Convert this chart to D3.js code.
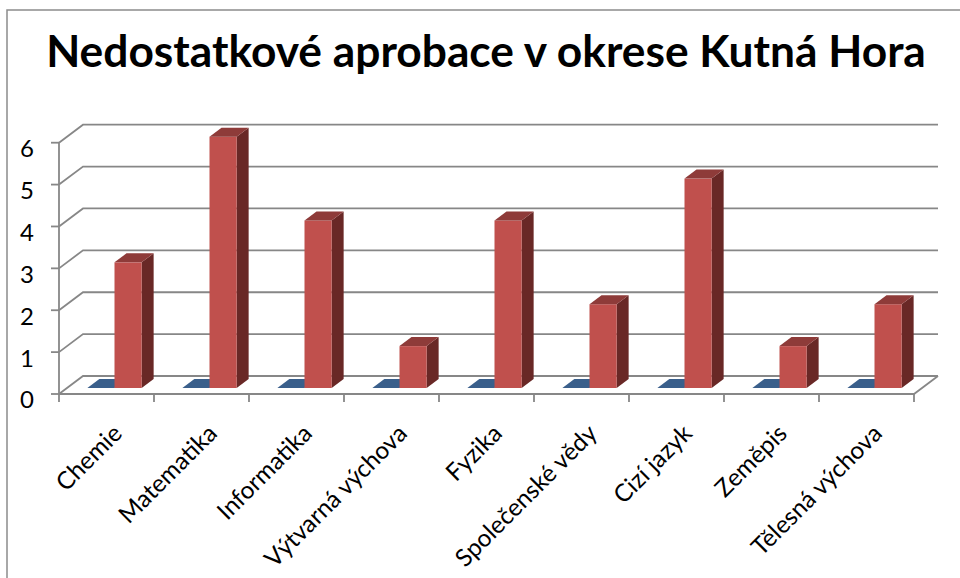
<!DOCTYPE html>
<html>
<head>
<meta charset="utf-8">
<script src="https://cdn.jsdelivr.net/npm/d3@7"></script>
<style>
  html, body { margin: 0; padding: 0; background: #fff; }
  svg { display: block; }
</style>
</head>
<body>
<svg id="chart" width="960" height="578"></svg>
<script>
// ---- data ----
const title = "Nedostatkové aprobace v okrese Kutná Hora";
const categories = ["Chemie", "Matematika", "Informatika", "Výtvarná výchova", "Fyzika",
  "Společenské vědy", "Cizí jazyk", "Zeměpis", "Tělesná výchova"];
const seriesNames = ["Řada 1", "Řada 2"];
const series1 = [0, 0, 0, 0, 0, 0, 0, 0, 0];
const series2 = [3, 6, 4, 1, 4, 2, 5, 1, 2];
const yTicks = [0, 1, 2, 3, 4, 5, 6];

// ---- layout ----
const svg = d3.select("#chart");
const FONT = "Lato, 'Open Sans', 'DejaVu Sans', sans-serif";
const x0 = 59, x1 = 914, yBase = 394, yTop = 142.7;
const floorDx = 24, floorDy = -18;          // wall depth
const barFront = {dx: 8, dy: -6};            // bar front plane offset
const barDepth = {dx: 12, dy: -9};           // bar depth
const gridColor = "#878787";

const x = d3.scaleBand().domain(categories).range([x0, x1]).paddingInner(0).paddingOuter(0);
const xs = d3.scaleBand().domain(seriesNames).range([0, x.bandwidth()]).paddingInner(0).paddingOuter(0.75);
const y = d3.scaleLinear().domain([0, 6]).range([yBase, yTop]);

// frame
svg.append("rect").attr("x", 7).attr("y", 10).attr("width", 1000).attr("height", 700)
  .attr("fill", "none").attr("stroke", "#8c8c8c").attr("stroke-width", 1.5);

// title
const t = svg.append("text").attr("x", 486).attr("y", 67).attr("text-anchor", "middle")
  .attr("font-family", FONT).attr("font-weight", "bold").attr("font-size", 40)
  .attr("fill", "#000").text(title);
{
  const w = t.node().getComputedTextLength();
  t.attr("font-size", 40 * 880 / w);
}

// gridlines: side wall diagonal + back wall horizontal
const grid = svg.append("g").attr("stroke", gridColor).attr("stroke-width", 1.8).attr("fill", "none");
yTicks.forEach(v => {
  const yy = y(v);
  grid.append("path").attr("d", `M${x0},${yy}L${x0 + floorDx},${yy + floorDy}L${x1 + floorDx},${yy + floorDy}`);
});
// floor
grid.append("path").attr("d",
  `M${x0},${yBase}L${x1},${yBase}L${x1 + floorDx},${yBase + floorDy}`);
// vertical axis
grid.append("line").attr("x1", x0).attr("x2", x0).attr("y1", y(6)).attr("y2", yBase);
// y ticks
yTicks.forEach(v => {
  grid.append("line").attr("x1", x0 - 8).attr("x2", x0).attr("y1", y(v)).attr("y2", y(v));
});
// x ticks
const tickXs = categories.map(c => x(c)).concat([x1]);
tickXs.forEach(tx => {
  grid.append("line").attr("x1", tx).attr("x2", tx).attr("y1", yBase).attr("y2", yBase + 8);
});

// y tick labels
const yl = svg.append("g").attr("font-family", FONT).attr("font-size", 24).attr("fill", "#000");
yTicks.forEach(v => {
  yl.append("text").attr("x", 34).attr("y", y(v) + 6).attr("dy", "0.35em")
    .attr("text-anchor", "end").text(v);
});

// bars
const bars = svg.append("g");
function drawBar(bx, w, v, colors) {
  const fx = bx + barFront.dx;
  const fyb = yBase + barFront.dy;
  const fyt = y(v) + barFront.dy;
  const dx = barDepth.dx, dy = barDepth.dy;
  if (fyb - fyt > 0.5) {
    // side
    bars.append("path").attr("d",
      `M${fx + w},${fyb}L${fx + w + dx},${fyb + dy}L${fx + w + dx},${fyt + dy}L${fx + w},${fyt}Z`)
      .attr("fill", colors.side);
    // front
    bars.append("rect").attr("x", fx).attr("y", fyt).attr("width", w).attr("height", fyb - fyt)
      .attr("fill", colors.front);
  }
  // top
  bars.append("path").attr("d",
    `M${fx},${fyt}L${fx + dx},${fyt + dy}L${fx + w + dx},${fyt + dy}L${fx + w},${fyt}Z`)
    .attr("fill", colors.top);
}
const blue = {front: "#4a7ebb", side: "#2c4d75", top: "#3a5f8b"};
const red = {front: "#c0504d", side: "#692826", top: "#8e3b39"};
categories.forEach((c, i) => {
  drawBar(x(c) + xs(seriesNames[0]), xs.bandwidth(), series1[i], blue);
  drawBar(x(c) + xs(seriesNames[1]), xs.bandwidth(), series2[i], red);
});

// category labels
const xl = svg.append("g").attr("font-family", FONT).attr("fill", "#000");
const probe = xl.append("text").attr("font-size", 24).text("Matematika");
const labelSize = 24 * 127 / probe.node().getComputedTextLength();
probe.remove();
categories.forEach(c => {
  const cx = x(c) + x.bandwidth() / 2 + 17;
  const cy = yBase + 41;
  xl.append("text").attr("font-size", labelSize)
    .attr("text-anchor", "end")
    .attr("transform", `translate(${cx},${cy}) rotate(-45)`)
    .text(c);
});
</script>
</body>
</html>
